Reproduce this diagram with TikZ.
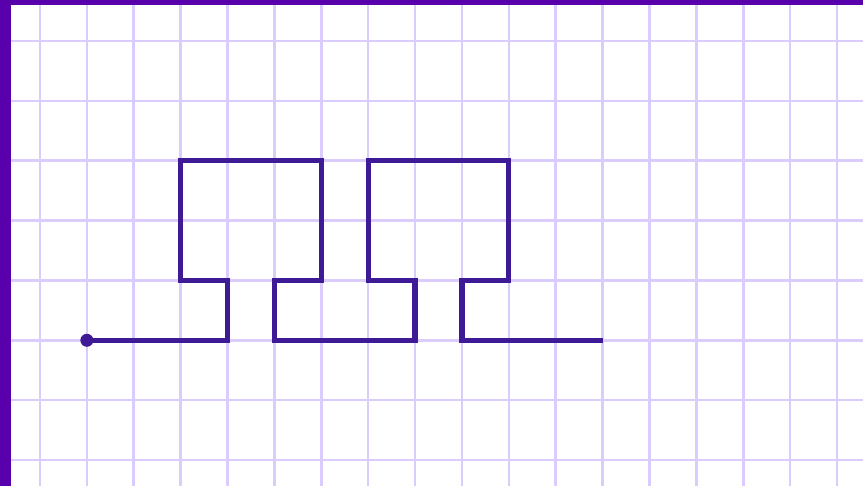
\documentclass[tikz,border=0pt]{standalone}
\usepackage{tikz}
\definecolor{frame}{RGB}{88,0,172}
\definecolor{gridline}{RGB}{218,204,252}
\definecolor{pathline}{RGB}{62,26,150}

\begin{document}
\begin{tikzpicture}[x=1pt,y=-1pt,
  sq/.style={gridline,line width=2.6pt},
  walk/.style={pathline,line width=5.2pt,line join=miter}]
  \useasboundingbox (0,0) rectangle (863,486);
  \fill[white] (0,0) rectangle (863,486);
  % squared paper
  \foreach \i in {0,...,17}
    \draw[sq] (40+46.88*\i,0) -- (40+46.88*\i,486);
  \foreach \j in {0,...,7}
    \draw[sq] (0,41+59.86*\j) -- (863,41+59.86*\j);
  % frame
  \fill[frame] (0,0) rectangle (11,486);
  \fill[frame] (0,0) rectangle (863,5);
  % the walk, in grid units
  \begin{scope}[shift={(40,41)},x=46.88pt,y=-59.86pt]
    \coordinate (start) at (1,5);
    \coordinate (finish) at (12,5);
    \draw[walk] (start) -- (4,5) -- (4,4) -- (3,4) -- (3,2) -- (6,2) -- (6,4)
      -- (5,4) -- (5,5) -- (8,5) -- (8,4) -- (7,4) -- (7,2) -- (10,2)
      -- (10,4) -- (9,4) -- (9,5) -- (finish);
    \fill[pathline] (start) circle (6.5pt);
  \end{scope}
\end{tikzpicture}
\end{document}
